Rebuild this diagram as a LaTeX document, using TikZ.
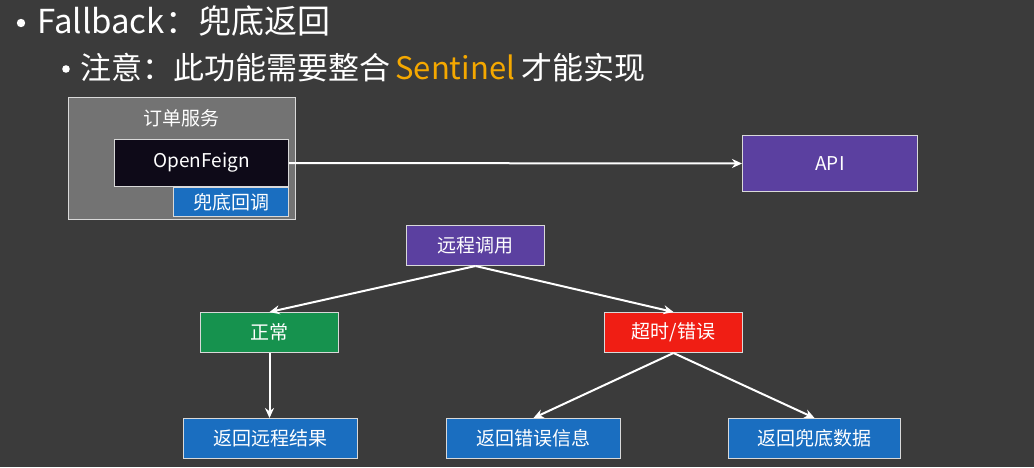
\documentclass[tikz,border=0pt]{standalone}
\usepackage{fontspec}
\setmainfont{Noto Sans CJK SC}
\usetikzlibrary{arrows.meta}
\definecolor{bg}{HTML}{3B3B3B}
\definecolor{purp}{HTML}{5B40A0}
\definecolor{blu}{HTML}{1A6EC0}
\definecolor{grn}{HTML}{16924E}
\definecolor{rd}{HTML}{F01E14}
\definecolor{org}{HTML}{F5A800}
\tikzset{
 bx/.style={draw=white!85!black,line width=1pt,text=white,font=\fontsize{19}{21}\selectfont,inner sep=0pt,anchor=north west},
 arr/.style={draw=white,line width=2pt,-{Stealth[length=10pt,width=9pt]}},
 tl/.style={anchor=west,text=white,inner sep=0pt}
}
\begin{document}
\begin{tikzpicture}[x=1pt,y=-1pt]
\fill[bg] (0,0) rectangle (1034,467);
\useasboundingbox (0,0) rectangle (1034,467);
\fill[white] (21,23) circle (4.2);
\node[tl,font=\fontsize{33}{35}\selectfont] (t1) at (37,21) {Fallback：兜底返回};
\fill[white] (66,69) circle (3.8);
\node[tl,font=\fontsize{31}{33}\selectfont] (t2) at (80,68) {注意：此功能需要整合\,\textcolor{org}{Sentinel} 才能实现};
\node[bx,fill=white!45!black,minimum width=227pt,minimum height=122pt] (svc) at (68,97) {};
\node[text=white,font=\fontsize{19}{21}\selectfont] (svcl) at (181,118) {订单服务};
\node[bx,fill=black!85!purp,minimum width=174pt,minimum height=47pt] (of) at (114,139) {OpenFeign};
\node[bx,fill=blu,minimum width=115pt,minimum height=29pt] (fb) at (173,187) {兜底回调};
\node[bx,fill=purp,minimum width=175pt,minimum height=56pt] (api) at (742,135) {API};
\draw[arr] (of.east) -- (api.west);
\node[bx,fill=purp,minimum width=138pt,minimum height=40pt] (rc) at (406,225) {远程调用};
\node[bx,fill=grn,minimum width=138pt,minimum height=40pt] (ok) at (200,312) {正常};
\node[bx,fill=rd,minimum width=138pt,minimum height=40pt] (err) at (604,312) {超时/错误};
\node[bx,fill=blu,minimum width=174pt,minimum height=40pt] (r1) at (183,418) {返回远程结果};
\node[bx,fill=blu,minimum width=174pt,minimum height=40pt] (r2) at (446,418) {返回错误信息};
\node[bx,fill=blu,minimum width=172pt,minimum height=40pt] (r3) at (728,418) {返回兜底数据};
\draw[arr] (rc.south) -- (ok.north);
\draw[arr] (rc.south) -- (err.north);
\draw[arr] (ok.south) -- (ok.south |- r1.north);
\draw[arr] (err.south) -- (r2.north);
\draw[arr] (err.south) -- (r3.north);
\end{tikzpicture}
\end{document}
